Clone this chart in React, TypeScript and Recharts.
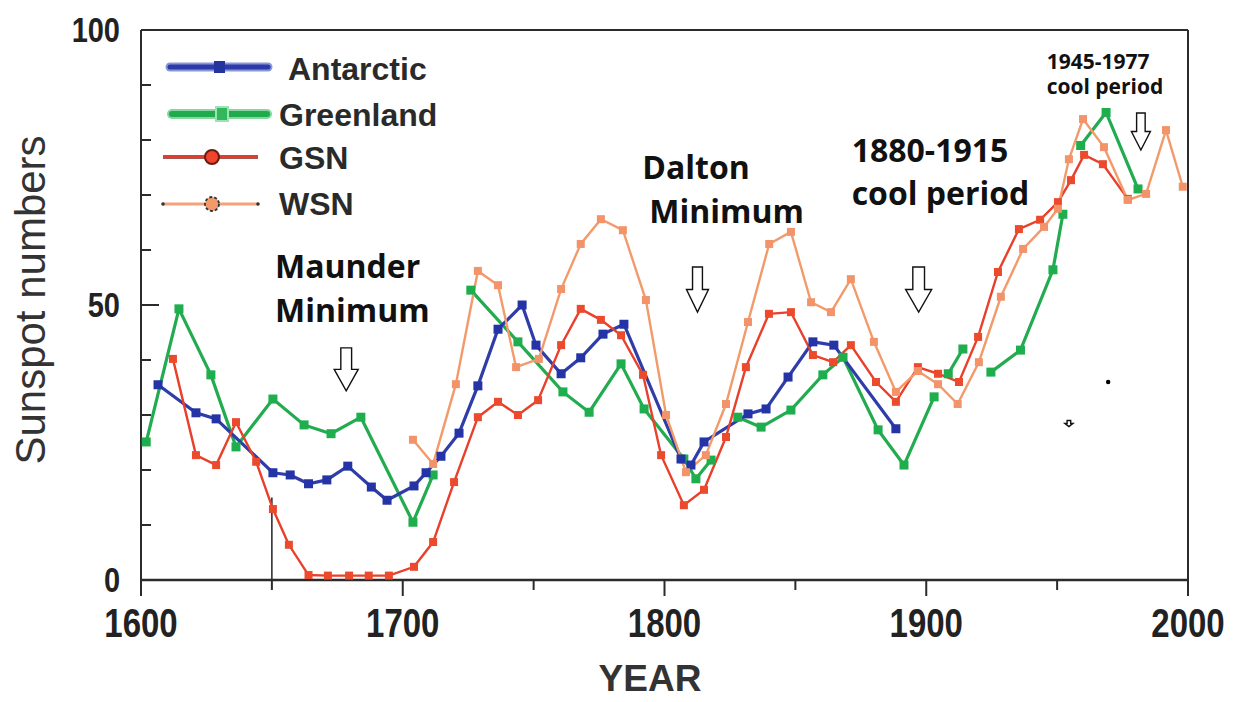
import { LineChart, Line, XAxis, YAxis, ReferenceDot, ReferenceLine, Legend } from 'recharts';

// Reconstructed sunspot series
const antarcticYears = [1606.5, 1621, 1628.7, 1650.4, 1657, 1664, 1671, 1679, 1688, 1694, 1704.3, 1708.9, 1714.6, 1721.5, 1728.7, 1736.4, 1745.6, 1750.9, 1760.5, 1768, 1776.5, 1784.5, 1806.3, 1810.1, 1815.1, 1831.9, 1838.8, 1847.2, 1856.7, 1864.7, 1888.4];
const antarcticValues = [35.5, 30.4, 29.3, 19.5, 19.1, 17.5, 18.2, 20.7, 16.9, 14.5, 17.1, 19.5, 22.5, 26.7, 35.3, 45.6, 50, 42.7, 37.5, 40.4, 44.7, 46.5, 22, 20.9, 25.1, 30.2, 31.1, 36.9, 43.3, 42.7, 27.5];

const greenlandYears = [1602, 1614.5, 1626.7, 1636.3, 1650.4, 1662.3, 1672.6, 1684, 1703.9, 1711.6, 1718, 1726, 1744, 1761.2, 1771.2, 1783.4, 1792.2, 1807.4, 1812, 1817.8, 1823, 1828, 1836.9, 1848.3, 1860.5, 1868.2, 1881.6, 1891.5, 1903, 1906, 1908.4, 1914, 1919, 1924.7, 1936, 1948.4, 1952.2, 1956, 1959, 1968.7, 1980.9];
const greenlandValues = [25.1, 49.3, 37.3, 24.2, 32.9, 28.2, 26.6, 29.6, 10.5, 19.1, null, 52.7, 43.3, 34.2, 30.5, 39.3, 31.1, 22, 18.4, 21.8, null, 29.6, 27.8, 30.9, 37.3, 40.5, 27.3, 20.9, 33.3, null, 37.5, 42, null, 37.8, 41.8, 56.4, 66.5, null, 79, 85, 71.1];

const gsnYears = [1612.2, 1621, 1628.7, 1636.3, 1644, 1650.4, 1656.5, 1664, 1671.4, 1679.5, 1687, 1694.7, 1704.3, 1711.6, 1719.6, 1728.7, 1736.4, 1744, 1751.7, 1760.5, 1768, 1775.7, 1783.4, 1791.8, 1798.7, 1807.4, 1815.1, 1823.5, 1831.1, 1839.9, 1848.3, 1856.7, 1864.4, 1871.2, 1880.8, 1888.4, 1896.8, 1904.5, 1912.5, 1919.8, 1927.4, 1935.4, 1943.5, 1950.3, 1955.3, 1960.3, 1967.5, 1977];
const gsnValues = [40.2, 22.7, 20.9, 28.7, 21.5, 12.9, 6.4, 0.9, 0.8, 0.8, 0.8, 0.8, 2.4, 6.9, 17.8, 29.6, 32.4, 30, 32.7, 42.7, 49.3, 47.3, 44.5, 37.3, 22.7, 13.6, 16.4, 26, 38.7, 48.4, 48.7, 40.9, 39.6, 42.7, 36, 32.4, 38.7, 37.5, 36, 44.2, 56, 63.8, 65.5, 68.7, 72.7, 77.3, 75.6, 69.3];

const wsnYears = [1703.9, 1711.6, 1720.3, 1728.7, 1736.4, 1743.3, 1752, 1760.5, 1768, 1775.7, 1784.1, 1792.9, 1800.6, 1808.2, 1815.8, 1823.5, 1831.9, 1840, 1848.3, 1856, 1863.6, 1871.2, 1880, 1888.4, 1896.8, 1904.5, 1912, 1920.1, 1928.5, 1937, 1945, 1950.3, 1954.5, 1959.9, 1967.9, 1977, 1984, 1991.6, 1998];
const wsnValues = [25.5, 21.1, 35.6, 56.2, 53.6, 38.7, 40.2, 52.9, 61.1, 65.6, 63.6, 50.9, 30, 19.6, 22.7, 32, 46.9, 61.1, 63.3, 50.5, 48.7, 54.7, 43.3, 34.2, 38, 35.6, 32, 39.6, 51.5, 60.2, 64.2, 67.5, 76.5, 83.8, 78.7, 69.1, 70.2, 81.8, 71.5];

const xTicks = [1600, 1650, 1700, 1750, 1800, 1850, 1900, 1950, 2000];
const yTicks = [0, 10, 20, 30, 40, 50, 60, 70, 80, 90, 100];

const toPoints = (years: number[], values: (number | null)[]) =>
  years.map((year, i) => ({ year, value: values[i] }));

const FRAME = '#2b2b2b';
const FONT = "'Liberation Sans', Arial, sans-serif";
const NOTE_FONT = "'Open Sans', 'Noto Sans', sans-serif";

const squareDot = (size: number, fill: string) => (props: any) => {
  const { cx, cy, value, index } = props;
  if (value == null || cx == null || cy == null) return <g key={`d${index}`} />;
  return <rect key={`d${index}`} x={cx - size / 2} y={cy - size / 2} width={size} height={size} fill={fill} />;
};

// tick labels in the original are a bit taller than wide, so stretch them vertically
const BottomTick = (props: any) => {
  const { x, y, payload } = props;
  const major = payload.value % 100 === 0;
  return (
    <g>
      <line x1={x} x2={x} y1={y} y2={y + (major ? 16 : 10)} stroke={FRAME} strokeWidth={2} />
      {major && (
        <text
          transform={`translate(${x},${y + 57}) scale(1,1.22)`}
          textAnchor="middle"
          fontFamily={FONT}
          fontWeight="bold"
          fontSize={33}
          fill="#222"
        >
          {payload.value}
        </text>
      )}
    </g>
  );
};

const TopTick = (props: any) => {
  const { x, y, payload } = props;
  const major = payload.value % 100 === 0;
  return <line x1={x} x2={x} y1={y} y2={y + (major ? 16 : 13)} stroke={FRAME} strokeWidth={2} />;
};

const LeftTick = (props: any) => {
  const { x, y, payload } = props;
  const major = payload.value % 50 === 0;
  return (
    <g>
      <line x1={x} x2={x + (major ? 18 : 10)} y1={y} y2={y} stroke={FRAME} strokeWidth={2} />
      {major && (
        <text
          transform={`translate(${x - 21},${y + 12}) scale(1,1.22)`}
          textAnchor="end"
          fontFamily={FONT}
          fontWeight="bold"
          fontSize={29}
          fill="#222"
        >
          {payload.value}
        </text>
      )}
    </g>
  );
};

const RightTick = (props: any) => {
  const { x, y, payload } = props;
  const major = payload.value % 50 === 0;
  return <line x1={x} x2={x - (major ? 20 : 11)} y1={y} y2={y} stroke={FRAME} strokeWidth={2} />;
};

const DownArrow = (w: number, h: number) => (props: any) => {
  const { cx, cy } = props;
  const sw = w * 0.45;
  const sh = h * 0.5;
  const d = `M${cx - sw / 2},${cy} L${cx + sw / 2},${cy} L${cx + sw / 2},${cy + sh} L${cx + w / 2},${cy + sh} L${cx},${cy + h} L${cx - w / 2},${cy + sh} L${cx - sw / 2},${cy + sh} Z`;
  return <path d={d} fill="#fff" stroke="#111" strokeWidth={1.4} />;
};

const Note = (lines: string[], size: number, gap: number, dx: number[] = []) => (props: any) => {
  const { cx, cy } = props;
  return (
    <g fontFamily={NOTE_FONT} fontWeight={700} fontSize={size} fill="#111">
      {lines.map((t, i) => (
        <text key={t} x={cx + (dx[i] || 0)} y={cy + i * gap}>
          {t}
        </text>
      ))}
    </g>
  );
};

const LegendBox = () => (
  <svg width={300} height={190} style={{ overflow: 'visible' }}>
    <g>
      <line x1={10} x2={108} y1={27} y2={27} stroke="#8a96d6" strokeWidth={9} strokeLinecap="round" />
      <line x1={10} x2={108} y1={27} y2={27} stroke="#2b3baa" strokeWidth={5} strokeLinecap="round" />
      <rect x={54} y={21} width={11} height={12} fill="#24349e" />
      <text x={128} y={40} fontFamily={FONT} fontWeight="bold" fontSize={32} fill="#2a2a2a">Antarctic</text>
    </g>
    <g>
      <line x1={12} x2={107} y1={74} y2={74} stroke="#86d6a0" strokeWidth={10} strokeLinecap="round" />
      <line x1={12} x2={107} y1={74} y2={74} stroke="#21a94d" strokeWidth={6} strokeLinecap="round" />
      <rect x={56} y={67} width={12} height={14} fill="#2fb85c" stroke="#9fe0b4" strokeWidth={2} />
      <text x={119} y={86} fontFamily={FONT} fontWeight="bold" fontSize={32} fill="#2a2a2a">Greenland</text>
    </g>
    <g>
      <line x1={3} x2={98} y1={117} y2={117} stroke="#8a1f14" strokeWidth={3.5} />
      <line x1={3} x2={98} y1={117} y2={117} stroke="#e53b2c" strokeWidth={1.8} />
      <circle cx={52} cy={117} r={7} fill="#f0442c" stroke="#6b1a10" strokeWidth={2} />
      <text x={119} y={129} fontFamily={FONT} fontWeight="bold" fontSize={32} fill="#2a2a2a">GSN</text>
    </g>
    <g>
      <line x1={3} x2={98} y1={164} y2={164} stroke="#f3a27a" strokeWidth={3} />
      <circle cx={3} cy={164} r={1.8} fill="#333" />
      <circle cx={98} cy={164} r={1.8} fill="#333" />
      <circle cx={52} cy={164} r={7} fill="#f29a6a" stroke="#333" strokeWidth={1.8} strokeDasharray="3 2" />
      <text x={119} y={175} fontFamily={FONT} fontWeight="bold" fontSize={32} fill="#2a2a2a">WSN</text>
    </g>
  </svg>
);

export default function App() {
  return (
    <div style={{ position: 'absolute', left: 0, top: 0, width: 1234, height: 702, background: '#fff' }}>
      <LineChart width={1234} height={702} margin={{ top: 0, right: 0, bottom: 0, left: 0 }}>
        <XAxis
          xAxisId="bottom"
          dataKey="year"
          type="number"
          domain={[1600, 2000]}
          ticks={xTicks}
          height={122}
          tickSize={0}
          tickMargin={0}
          tickLine={false}
          axisLine={{ stroke: FRAME, strokeWidth: 2.5 }}
          tick={<BottomTick />}
          label={{
            content: () => (
              <text x={650} y={691} textAnchor="middle" fontFamily={FONT} fontWeight="bold" fontSize={37} fill="#333">
                YEAR
              </text>
            ),
          }}
        />
        <XAxis
          xAxisId="top"
          orientation="top"
          dataKey="year"
          type="number"
          domain={[1600, 2000]}
          ticks={xTicks}
          height={30}
          tickSize={0}
          tickMargin={0}
          tickLine={false}
          axisLine={{ stroke: FRAME, strokeWidth: 2 }}
          tick={<TopTick />}
        />
        <YAxis
          yAxisId="left"
          type="number"
          domain={[0, 100]}
          ticks={yTicks}
          width={141}
          tickSize={0}
          tickMargin={0}
          tickLine={false}
          axisLine={{ stroke: FRAME, strokeWidth: 2 }}
          tick={<LeftTick />}
          label={{
            content: () => (
              <text
                x={45}
                y={300}
                transform="rotate(-90 45 300)"
                textAnchor="middle"
                fontFamily={FONT}
                fontSize={42}
                fill="#333"
              >
                Sunspot numbers
              </text>
            ),
          }}
        />
        <YAxis
          yAxisId="right"
          orientation="right"
          type="number"
          domain={[0, 100]}
          ticks={yTicks}
          width={46}
          tickSize={0}
          tickMargin={0}
          tickLine={false}
          axisLine={{ stroke: FRAME, strokeWidth: 2 }}
          tick={<RightTick />}
        />

        <Legend
          layout="vertical"
          align="center"
          verticalAlign="middle"
          content={() => <LegendBox />}
          wrapperStyle={{ position: 'absolute', left: 160, top: 40, width: 300, height: 190 }}
        />

        <ReferenceLine
          xAxisId="bottom"
          yAxisId="left"
          segment={[{ x: 1650, y: 0 }, { x: 1650, y: 15 }]}
          stroke="#222"
          strokeWidth={1.5}
        />

        <Line
          xAxisId="bottom"
          yAxisId="left"
          data={toPoints(greenlandYears, greenlandValues)}
          dataKey="value"
          name="Greenland"
          stroke="#22ab4f"
          strokeWidth={3.2}
          dot={squareDot(9, '#1fae4e')}
          activeDot={false}
          connectNulls={false}
          isAnimationActive={false}
        />
        <Line
          xAxisId="bottom"
          yAxisId="left"
          data={toPoints(antarcticYears, antarcticValues)}
          dataKey="value"
          name="Antarctic"
          stroke="#2e3da8"
          strokeWidth={3.2}
          dot={squareDot(9, '#2434a6')}
          activeDot={false}
          isAnimationActive={false}
        />
        <Line
          xAxisId="bottom"
          yAxisId="left"
          data={toPoints(gsnYears, gsnValues)}
          dataKey="value"
          name="GSN"
          stroke="#e8402b"
          strokeWidth={2.4}
          dot={squareDot(8, '#ec4a2c')}
          activeDot={false}
          isAnimationActive={false}
        />
        <Line
          xAxisId="bottom"
          yAxisId="left"
          data={toPoints(wsnYears, wsnValues)}
          dataKey="value"
          name="WSN"
          stroke="#f39a6b"
          strokeWidth={2.4}
          dot={squareDot(8, '#f2936a')}
          activeDot={false}
          isAnimationActive={false}
        />

        {/* annotations */}
        <ReferenceDot xAxisId="bottom" yAxisId="left" x={1651.2} y={55} shape={Note(['Maunder', 'Minimum'], 32, 44)} />
        <ReferenceDot xAxisId="bottom" yAxisId="left" x={1678.4} y={42.2} shape={DownArrow(24, 43)} />
        <ReferenceDot xAxisId="bottom" yAxisId="left" x={1791.5} y={73} shape={Note(['Dalton', 'Minimum'], 32, 44, [0, 7])} />
        <ReferenceDot xAxisId="bottom" yAxisId="left" x={1812.6} y={56.9} shape={DownArrow(22, 45)} />
        <ReferenceDot xAxisId="bottom" yAxisId="left" x={1871.5} y={76} shape={Note(['1880-1915', 'cool period'], 32, 43)} />
        <ReferenceDot xAxisId="bottom" yAxisId="left" x={1897.1} y={56.9} shape={DownArrow(26, 45)} />
        <ReferenceDot xAxisId="bottom" yAxisId="left" x={1946} y={93} shape={Note(['1945-1977', 'cool period'], 21, 25)} />
        <ReferenceDot xAxisId="bottom" yAxisId="left" x={1982} y={84.9} shape={DownArrow(19, 37)} />
        <ReferenceDot xAxisId="bottom" yAxisId="left" x={1969.5} y={36} shape={(p: any) => <circle cx={p.cx} cy={p.cy} r={2.2} fill="#000" />} />
        <ReferenceDot xAxisId="bottom" yAxisId="left" x={1954.5} y={29} shape={DownArrow(8, 6)} />
      </LineChart>
    </div>
  );
}
